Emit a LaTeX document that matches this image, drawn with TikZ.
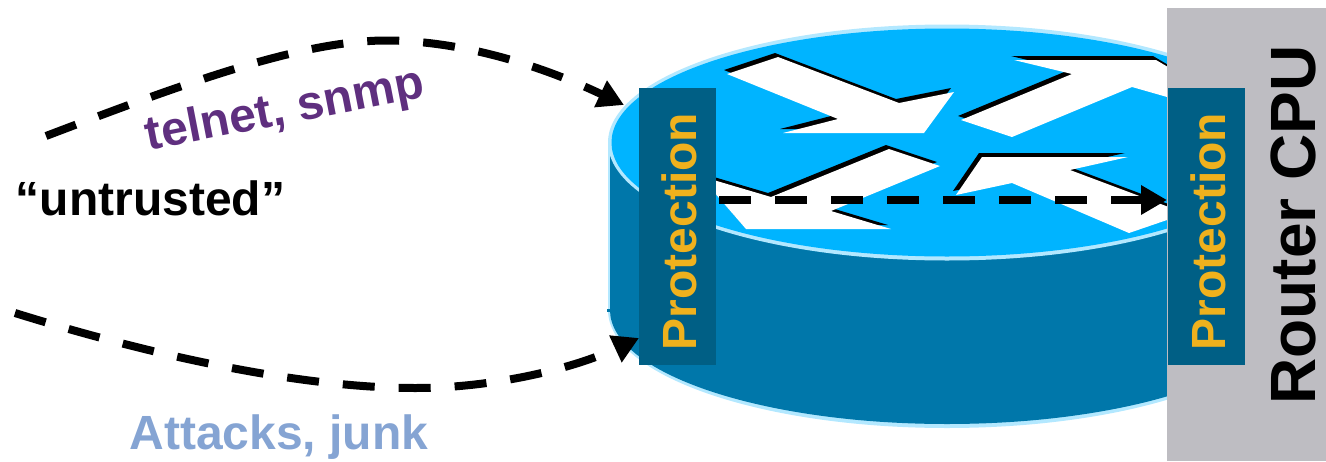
\documentclass[tikz,border=0pt]{standalone}
\usepackage{fontspec}
\setmainfont{Liberation Sans}
\usetikzlibrary{arrows.meta}
\definecolor{topblue}{HTML}{00B4FF}
\definecolor{rim}{HTML}{B3E8FF}
\definecolor{sideblue}{HTML}{0077AA}
\definecolor{boxblue}{HTML}{005F85}
\definecolor{gold}{HTML}{EFB11D}
\definecolor{cpugray}{HTML}{BEBDC2}
\definecolor{telnetpurple}{HTML}{5F2F7F}
\definecolor{attackblue}{HTML}{85A4D3}
\tikzset{
  protbox/.style={fill=boxblue,draw=none,minimum width=77pt,minimum height=277pt,inner sep=0pt},
  prottext/.style={text=gold,font=\bfseries\fontsize{48}{48}\selectfont,rotate=90,inner sep=0pt},
  flowarrow/.style={draw=black,line width=8pt,dash pattern=on 32pt off 24pt,-{Triangle[length=26pt,width=28pt]}},
  routerarrow/.style={fill=white,draw=none},
  biglabel/.style={font=\bfseries\fontsize{48}{48}\selectfont,inner sep=0pt},
}
\newcommand{\shadowarrow}[1]{%
  \fill[black,shift={(-3pt,4pt)}] #1;
  \fill[routerarrow] #1;
}
\begin{document}
\begin{tikzpicture}[x=1pt,y=-1pt]
\useasboundingbox (0,0) rectangle (1326,461);
% cylinder
\fill[rim] (608,142) -- (608,310) arc[start angle=180,end angle=0,x radius=339,y radius=118] -- (1286,142) -- cycle;
\fill[sideblue] (610,142) -- (610,310) arc[start angle=180,end angle=0,x radius=337,y radius=114] -- (1284,142) -- cycle;
\fill[sideblue] (607,309) rectangle (611,312);
\fill[rim] (947,142.5) ellipse[x radius=339,y radius=118];
\fill[topblue] (947,142.5) ellipse[x radius=335.5,y radius=114];
% router arrows
\shadowarrow{(727,74) -- (778,57) -- (899,103) -- (954,92) -- (924,133) -- (783,133) -- (838,119) -- cycle}
\shadowarrow{(961,120) -- (1072,74) -- (1014,60) -- (1156,60) -- (1190,80) -- (1167,97) -- (1132,87) -- (1012,137) -- cycle}
\shadowarrow{(940,166) -- (889,149) -- (771,197) -- (700,176) -- (746,229) -- (891,229) -- (831,211) -- cycle}
\shadowarrow{(956,195) -- (982,157) -- (1128,157) -- (1070,170) -- (1190,215) -- (1167,220) -- (1129,233) -- (1012,183) -- cycle}
% CPU
\fill[cpugray] (1167,8) rectangle (1326,461);
\node[rotate=90,font=\bfseries\fontsize{64}{64}\selectfont,text=black,inner sep=0pt] (cpu) at (1293,225) {Router CPU};
% protection boxes
\node[protbox] (protL) at (677.5,226.5) {};
\node[protbox] (protR) at (1206.5,226.5) {};
\node[prottext] (protLt) at ([shift={(2pt,-5pt)}]protL.center) {Protection};
\node[prottext] (protRt) at ([shift={(1.5pt,-5pt)}]protR.center) {Protection};
% labels
\node[biglabel,text=black] (untrusted) at (150.5,198) {“untrusted”};
\node[biglabel,text=telnetpurple,rotate=11] (telnet) at (285,111.5) {telnet, snmp};
\node[biglabel,text=attackblue] (attacks) at (279,437) {Attacks, junk};
% connectors
\coordinate (s1) at (46,136);
\coordinate (m1) at (386,40.5);
\coordinate (e1) at (624,105);
\coordinate (s2) at (15,313);
\coordinate (m2) at (415,388);
\coordinate (e2) at (639,338);
\coordinate (s3) at (719,200);
\coordinate (e3) at (1167,200);
\draw[flowarrow] (s1) .. controls (180,85) and (300,40.5) .. (m1) .. controls (460,40.5) and (540,65) .. (e1);
\draw[flowarrow] (s2) .. controls (150,355) and (300,388) .. (m2) .. controls (490,388) and (570,370) .. (e2);
\draw[flowarrow] (s3) -- (e3);
\end{tikzpicture}
\end{document}
